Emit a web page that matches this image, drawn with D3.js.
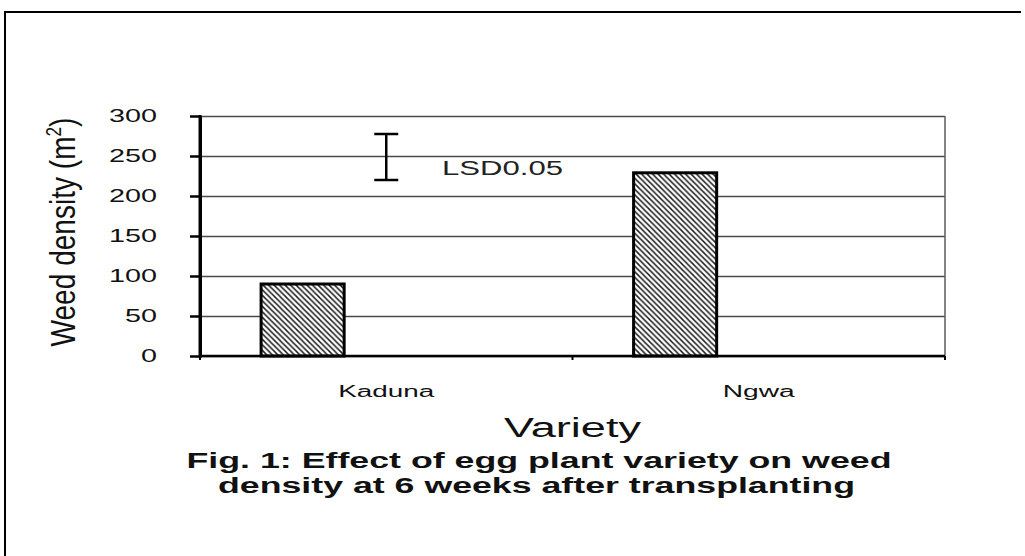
<!DOCTYPE html>
<html>
<head>
<meta charset="utf-8">
<script src="https://cdn.jsdelivr.net/npm/d3@7"></script>
<style>
  html, body { margin: 0; padding: 0; background: #fff; }
  svg { display: block; font-family: "Liberation Sans", Arial, sans-serif; }
</style>
</head>
<body>
<svg id="chart" width="1025" height="556"></svg>
<script>
// ---- data ----
const categories = ["Kaduna", "Ngwa"];
const weedDensity = [90, 229];
const yTicks = [0, 50, 100, 150, 200, 250, 300];
const lsdRange = [220, 277.5];
const lsdLabel = "LSD0.05";
const xTitle = "Variety";
const yTitle = "Weed density (m";
const captionLines = ["Fig. 1: Effect of egg plant variety on weed",
                      "density at 6 weeks after transplanting"];

(function () {
// ---- layout ----
const svg = d3.select("#chart");
const pLeft = 200, pRight = 945, pTop = 116, pBottom = 356;

const x = d3.scaleBand().domain(categories).range([pLeft, pRight]).padding(0);
const y = d3.scaleLinear().domain([0, 300]).range([pBottom, pTop]);
const bw = x.bandwidth();

// outer frame (left and top edges visible)
svg.append("line").attr("x1", 5).attr("x2", 5).attr("y1", 11).attr("y2", 556)
  .attr("stroke", "#000").attr("stroke-width", 2);
svg.append("line").attr("x1", 4).attr("x2", 1021).attr("y1", 12).attr("y2", 12)
  .attr("stroke", "#000").attr("stroke-width", 2);

// hatch pattern
const defs = svg.append("defs");
const pat = defs.append("pattern").attr("id", "hatch")
  .attr("patternUnits", "userSpaceOnUse").attr("width", 5.5).attr("height", 5.5);
pat.append("rect").attr("width", 5.5).attr("height", 5.5).attr("fill", "#fff");
pat.append("path").attr("d", "M-1,-1 L6.5,6.5 M-1,4.5 L1,6.5 M4.5,-1 L6.5,1")
  .attr("stroke", "#222").attr("stroke-width", 1.5);

// gridlines
const grid = svg.append("g").attr("transform", `translate(${pLeft},0)`)
  .call(d3.axisLeft(y).tickValues(yTicks).tickSize(-(pRight - pLeft)).tickFormat(""));
grid.select(".domain").remove();
grid.selectAll("line").attr("stroke", "#4a4a4a").attr("stroke-width", 1.6);

// plot right border
svg.append("line").attr("x1", pRight).attr("x2", pRight).attr("y1", pTop).attr("y2", pBottom)
  .attr("stroke", "#666").attr("stroke-width", 1.6);

// bars
svg.append("g").selectAll("rect").data(categories).join("rect")
  .attr("x", (d) => x(d) + bw * 0.164)
  .attr("width", bw * 0.223)
  .attr("y", (d, i) => y(weedDensity[i]))
  .attr("height", (d, i) => y(0) - y(weedDensity[i]))
  .attr("fill", "url(#hatch)")
  .attr("stroke", "#000").attr("stroke-width", 3);

// x axis line + boundary ticks
svg.append("line").attr("x1", pLeft).attr("x2", pRight).attr("y1", pBottom).attr("y2", pBottom)
  .attr("stroke", "#000").attr("stroke-width", 2.5);
const bounds = categories.map((c) => x(c)).concat([x(categories[categories.length - 1]) + bw]);
svg.append("g").selectAll("line").data(bounds).join("line")
  .attr("x1", (d) => d).attr("x2", (d) => d)
  .attr("y1", pBottom).attr("y2", pBottom + 4)
  .attr("stroke", "#000").attr("stroke-width", 2);

// y axis
const yAxis = svg.append("g").attr("transform", `translate(${pLeft},0)`)
  .call(d3.axisLeft(y).tickValues(yTicks).tickSize(10).tickSizeOuter(0).tickPadding(33));
yAxis.select(".domain").attr("stroke", "#000").attr("stroke-width", 3);
yAxis.selectAll(".tick line").attr("stroke", "#000").attr("stroke-width", 2.5);
yAxis.selectAll(".tick text")
  .attr("font-family", "Liberation Sans, Arial, sans-serif")
  .attr("font-size", 18)
  .attr("fill", "#111")
  .attr("textLength", (d) => String(d).length * 16)
  .attr("lengthAdjust", "spacingAndGlyphs");
svg.append("line").attr("x1", pLeft).attr("x2", pLeft).attr("y1", pTop - 1).attr("y2", pBottom + 2)
  .attr("stroke", "#000").attr("stroke-width", 3);

// x category labels
svg.append("g").selectAll("text").data(categories).join("text")
  .attr("x", (d) => x(d) + bw / 2)
  .attr("y", 397)
  .attr("text-anchor", "middle")
  .attr("font-size", 16)
  .attr("fill", "#111")
  .attr("textLength", (d, i) => [96, 72][i])
  .attr("lengthAdjust", "spacingAndGlyphs")
  .text((d) => d);

// LSD error bar
const lsdX = x(categories[0]) + bw / 2;
const lsdG = svg.append("g").attr("stroke", "#000").attr("stroke-width", 2.5);
lsdG.append("line").attr("x1", lsdX).attr("x2", lsdX).attr("y1", y(lsdRange[0])).attr("y2", y(lsdRange[1]));
lsdG.selectAll("line.cap").data(lsdRange).join("line").attr("class", "cap")
  .attr("x1", lsdX - 12).attr("x2", lsdX + 12)
  .attr("y1", (d) => y(d)).attr("y2", (d) => y(d));
svg.append("text").attr("x", 442).attr("y", 175)
  .attr("font-size", 20).attr("fill", "#222")
  .attr("textLength", 121).attr("lengthAdjust", "spacingAndGlyphs")
  .text(lsdLabel);

// x title
svg.append("text").attr("x", (pLeft + pRight) / 2).attr("y", 437)
  .attr("text-anchor", "middle").attr("font-size", 27).attr("fill", "#111")
  .attr("textLength", 137).attr("lengthAdjust", "spacingAndGlyphs")
  .text(xTitle);

// y title
const yt = svg.append("text")
  .attr("transform", "translate(75,232) rotate(-90) scale(0.78,1)")
  .attr("text-anchor", "middle").attr("font-size", 36).attr("fill", "#111");
yt.append("tspan").text(yTitle);
yt.append("tspan").attr("font-size", 22).attr("dy", -14).text("2");
yt.append("tspan").attr("dy", 14).text(")");

// caption
const capCenters = [539, 536.5], capLens = [705, 637], capY = [468, 493];
svg.append("g").selectAll("text").data(captionLines).join("text")
  .attr("x", (d, i) => capCenters[i])
  .attr("y", (d, i) => capY[i])
  .attr("text-anchor", "middle")
  .attr("font-size", 22).attr("font-weight", "bold").attr("fill", "#111")
  .attr("textLength", (d, i) => capLens[i])
  .attr("lengthAdjust", "spacingAndGlyphs")
  .text((d) => d);
})();
</script>
</body>
</html>
